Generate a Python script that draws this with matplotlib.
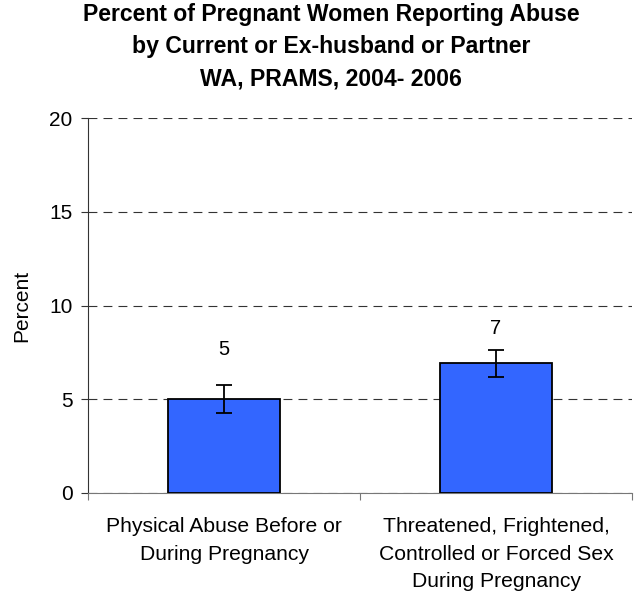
import matplotlib.pyplot as plt
import numpy as np

plt.rcParams['font.family'] = ['Liberation Sans', 'DejaVu Sans']

# data
categories = ["Physical Abuse Before or\nDuring Pregnancy",
              "Threatened, Frightened,\nControlled or Forced Sex\nDuring Pregnancy"]
values = [5.0, 6.95]
err_low = [0.75, 0.75]
err_high = [0.75, 0.7]
labels = ["5", "7"]
label_y = [7.65, 8.75]
title = "Percent of Pregnant Women Reporting Abuse\nby Current or Ex-husband or Partner\nWA, PRAMS, 2004- 2006"

fig = plt.figure(figsize=(6.39, 5.96), dpi=100)
ax = fig.add_axes([88 / 639, 1 - 493 / 596, 544 / 639, 375 / 596])

x = np.arange(len(values))
ax.bar(x, values, width=0.41, color="#3366FF", edgecolor="black", linewidth=1.3, zorder=3)
ax.errorbar(x, values, yerr=[err_low, err_high], fmt="none", ecolor="black",
            elinewidth=1.3, capsize=5.5, capthick=1.3, zorder=4)
for xi, ly, lab in zip(x, label_y, labels):
    ax.text(xi, ly, lab, ha="center", va="center", fontsize=14.5)

ax.set_xlim(-0.5, 1.5)
ax.set_ylim(0, 20)
ax.set_yticks([0, 5, 10, 15, 20])
ax.tick_params(axis="y", labelsize=15, length=5, pad=6, direction="out", color="#333333")
ax.yaxis.grid(True, linestyle=(0, (8, 5.5)), color="#333333", linewidth=0.8)
ax.set_axisbelow(True)

# category boundary ticks on x axis
ax.set_xticks([-0.5, 0.5, 1.5])
ax.set_xticklabels([])
ax.tick_params(axis="x", length=5, direction="out", color="#777777")
for xi, cat in zip(x, categories):
    ax.annotate(cat, xy=(xi, 0), xycoords=("data", "axes fraction"),
                xytext=(0, -17.5), textcoords="offset points",
                ha="center", va="top", fontsize=15.2, linespacing=1.57)

for s in ["top", "right"]:
    ax.spines[s].set_visible(False)
ax.spines["left"].set_color("#333333")
ax.spines["bottom"].set_color("#777777")
ax.set_ylabel("Percent", fontsize=15)
ax.yaxis.set_label_coords(-57 / 544, 0.5)

fig.text(331 / 639, 1 - 47 / 596, title, ha="center", va="center",
         fontsize=16.6, fontweight="bold", linespacing=1.5)

fig.savefig("out.png", dpi=100)
